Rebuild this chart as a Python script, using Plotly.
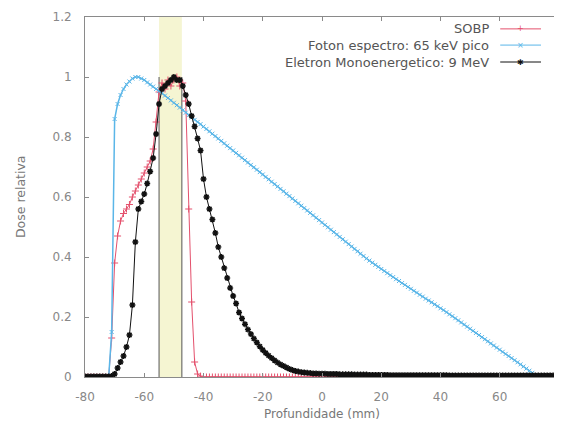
import plotly.graph_objects as go

depth = list(range(-80, 81))

sobp = [
    0, 0, 0, 0, 0, 0, 0, 0, 0, 0.13,
    0.38, 0.47, 0.52, 0.545, 0.56, 0.575, 0.60, 0.62, 0.64, 0.66,
    0.68, 0.70, 0.72, 0.76, 0.85, 0.95, 0.98, 0.96, 0.99, 0.97,
    0.99, 1.0, 0.97, 0.98, 0.92, 0.56, 0.25, 0.05, 0.01, 0.003,
    0, 0, 0, 0, 0, 0, 0, 0, 0, 0,
    0, 0, 0, 0, 0, 0, 0, 0, 0, 0,
    0, 0, 0, 0, 0, 0, 0, 0, 0, 0,
    0, 0, 0, 0, 0, 0, 0, 0, 0, 0,
    0, 0, 0, 0, 0, 0, 0, 0, 0, 0,
    0, 0, 0, 0, 0, 0, 0, 0, 0, 0,
    0, 0, 0, 0, 0, 0, 0, 0, 0, 0,
    0, 0, 0, 0, 0, 0, 0, 0, 0, 0,
    0, 0, 0, 0, 0, 0, 0, 0, 0, 0,
    0, 0, 0, 0, 0, 0, 0, 0, 0, 0,
    0, 0, 0, 0, 0, 0, 0, 0, 0, 0,
    0, 0, 0, 0, 0, 0, 0, 0, 0, 0,
    0,
]

foton = [
    0, 0, 0, 0, 0, 0, 0, 0, 0, 0.15,
    0.86, 0.91, 0.94, 0.96, 0.975, 0.985, 0.995, 1.0, 1.0, 0.995,
    0.99, 0.982, 0.975, 0.968, 0.96, 0.953, 0.946, 0.938, 0.93, 0.922,
    0.914, 0.906, 0.898, 0.889, 0.881, 0.873, 0.865, 0.857, 0.85, 0.843,
    0.835, 0.827, 0.819, 0.811, 0.803, 0.795, 0.787, 0.779, 0.771, 0.763,
    0.755, 0.747, 0.739, 0.731, 0.723, 0.715, 0.707, 0.699, 0.691, 0.683,
    0.675, 0.667, 0.659, 0.651, 0.643, 0.635, 0.627, 0.619, 0.611, 0.603,
    0.595, 0.587, 0.579, 0.571, 0.563, 0.555, 0.547, 0.539, 0.531, 0.523,
    0.515, 0.507, 0.499, 0.491, 0.483, 0.475, 0.467, 0.459, 0.451, 0.443,
    0.435, 0.427, 0.419, 0.411, 0.403, 0.395, 0.388, 0.381, 0.374, 0.367,
    0.36, 0.353, 0.346, 0.339, 0.333, 0.326, 0.32, 0.313, 0.307, 0.3,
    0.294, 0.287, 0.281, 0.274, 0.268, 0.261, 0.255, 0.249, 0.242, 0.236,
    0.229, 0.223, 0.216, 0.209, 0.203, 0.196, 0.189, 0.182, 0.175, 0.168,
    0.161, 0.154, 0.147, 0.14, 0.133, 0.126, 0.119, 0.112, 0.105, 0.098,
    0.091, 0.084, 0.077, 0.07, 0.063, 0.056, 0.049, 0.042, 0.035, 0.028,
    0.021, 0.014, 0.007, 0, 0, 0, 0, 0, 0, 0,
    0,
]

eletron = [
    0.002, 0.002, 0.002, 0.002, 0.002, 0.002, 0.002, 0.002, 0.002, 0.003,
    0.01, 0.03, 0.05, 0.07, 0.10, 0.14, 0.24, 0.45, 0.56, 0.585,
    0.61, 0.645, 0.685, 0.73, 0.81, 0.91, 0.96, 0.97, 0.98, 0.99,
    1.0, 0.99, 0.99, 0.97, 0.94, 0.91, 0.87, 0.835, 0.795, 0.755,
    0.66, 0.60, 0.56, 0.525, 0.48, 0.433, 0.40, 0.363, 0.33, 0.297,
    0.27, 0.245, 0.215, 0.195, 0.176, 0.158, 0.143, 0.128, 0.115, 0.102,
    0.09, 0.08, 0.071, 0.063, 0.055, 0.048, 0.042, 0.037, 0.032, 0.027,
    0.023, 0.02, 0.018, 0.016, 0.015, 0.014, 0.013, 0.012, 0.012, 0.011,
    0.011, 0.011, 0.01, 0.01, 0.01, 0.01, 0.009, 0.009, 0.009, 0.009,
    0.009, 0.008, 0.008, 0.008, 0.008, 0.008, 0.007, 0.007, 0.007, 0.007,
    0.007, 0.007, 0.007, 0.006, 0.006, 0.006, 0.006, 0.006, 0.006, 0.006,
    0.006, 0.006, 0.006, 0.006, 0.006, 0.006, 0.006, 0.006, 0.006, 0.006,
    0.006, 0.006, 0.006, 0.005, 0.005, 0.005, 0.005, 0.005, 0.005, 0.005,
    0.005, 0.005, 0.005, 0.005, 0.005, 0.005, 0.005, 0.005, 0.005, 0.005,
    0.005, 0.005, 0.005, 0.005, 0.005, 0.005, 0.005, 0.005, 0.005, 0.005,
    0.005, 0.005, 0.005, 0.005, 0.005, 0.005, 0.005, 0.005, 0.005, 0.005,
    0.005,
]

band = [-55, -47.3]
band_line_top = 1.0

series_names = ["SOBP", "Foton espectro: 65 keV pico", "Eletron Monoenergetico: 9 MeV"]
x_ticks = [-80, -60, -40, -20, 0, 20, 40, 60, 80]
y_ticks = [0, 0.2, 0.4, 0.6, 0.8, 1, 1.2]
y_tick_text = ["0", "0.2", "0.4", "0.6", "0.8", "1", "1.2"]

RED = "#e4506c"
BLUE = "#5ab6e8"
BLACK = "#111111"
GRAY = "#8a8a8a"
FONT = "DejaVu Sans"

fig = go.Figure()

fig.add_trace(go.Scatter(
    x=depth, y=sobp, mode="lines+markers", name=series_names[0],
    line=dict(color=RED, width=1),
    marker=dict(symbol="cross-thin", size=5, line=dict(color=RED, width=1)),
    showlegend=False,
))
fig.add_trace(go.Scatter(
    x=depth, y=foton, mode="lines+markers", name=series_names[1],
    line=dict(color=BLUE, width=1.5),
    marker=dict(symbol="x-thin", size=4, line=dict(color=BLUE, width=1)),
    showlegend=False,
))
fig.add_trace(go.Scatter(
    x=depth, y=eletron, mode="lines+markers", name=series_names[2],
    line=dict(color=BLACK, width=1),
    marker=dict(symbol="asterisk", size=5, line=dict(color=BLACK, width=1.5)),
    showlegend=False,
))

# highlighted band
fig.add_shape(type="rect", xref="x", yref="y", x0=band[0], x1=band[1], y0=0, y1=1.2,
              fillcolor="#f5f5d2", line=dict(width=0), layer="below")
for bx in band:
    fig.add_shape(type="line", xref="x", yref="y", x0=bx, x1=bx, y0=0, y1=band_line_top,
                  line=dict(color="#555555", width=1), layer="below")

# custom legend (text right, sample to its right, gnuplot style)
leg_y = [0.967, 0.922, 0.875]
leg_cols = [RED, BLUE, BLACK]
leg_syms = ["+", "×", "✱"]
for name, yy, col, sym in zip(series_names, leg_y, leg_cols, leg_syms):
    fig.add_annotation(xref="paper", yref="paper", x=0.856, y=yy, text=name,
                       showarrow=False, xanchor="right", yanchor="middle",
                       font=dict(family=FONT, size=13, color="#555555"))
    fig.add_shape(type="line", xref="paper", yref="paper", x0=0.876, x1=0.962,
                  y0=yy, y1=yy, line=dict(color=col, width=1))
    fig.add_annotation(xref="paper", yref="paper", x=0.919, y=yy, text=sym,
                       showarrow=False, xanchor="center", yanchor="middle",
                       font=dict(family=FONT, size=8, color=col))

# axis titles
fig.add_annotation(xref="paper", yref="paper", x=-0.137, y=0.5, text="Dose relativa",
                   textangle=-90, showarrow=False, xanchor="center", yanchor="middle",
                   font=dict(family=FONT, size=12.5, color="#777777"))
fig.add_annotation(xref="paper", yref="paper", x=0.5, y=-0.103, text="Profundidade (mm)",
                   showarrow=False, xanchor="center", yanchor="middle",
                   font=dict(family=FONT, size=12, color="#777777"))

axis_common = dict(
    showgrid=False, zeroline=False, showline=True, linecolor=GRAY, linewidth=1,
    mirror="ticks", ticks="inside", ticklen=4, tickcolor=GRAY,
    tickfont=dict(family=FONT, size=12, color="#888888"),
)
fig.update_xaxes(range=[-80, 80], tickvals=x_ticks, ticktext=[str(v) for v in x_ticks],
                 ticklabelstandoff=9, **axis_common)
fig.update_yaxes(range=[0, 1.2], tickvals=y_ticks, ticktext=y_tick_text,
                 ticklabelstandoff=10, **axis_common)

# page body has an 8px default margin; figure is sized to sit inside the window
fig.update_layout(
    width=554, height=416,
    margin=dict(l=77, r=3, t=9, b=47),
    paper_bgcolor="white", plot_bgcolor="white",
    showlegend=False,
    font=dict(family=FONT),
)

fig.write_html("out.html")
